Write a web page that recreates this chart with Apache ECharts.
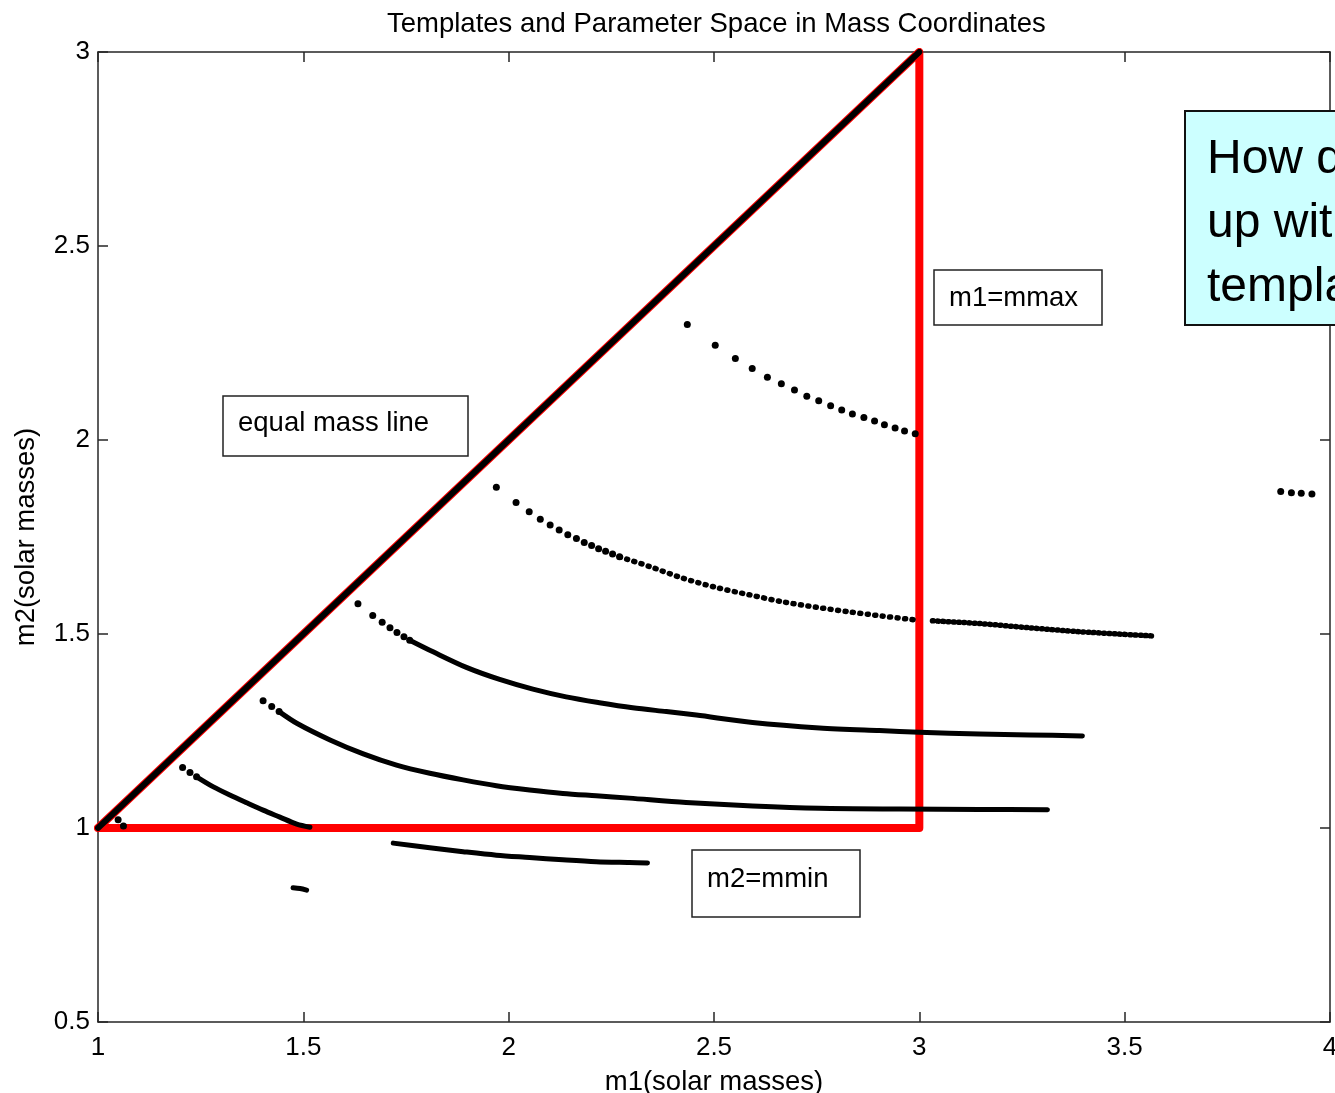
<!DOCTYPE html>
<html>
<head>
<meta charset="utf-8">
<title>Templates and Parameter Space in Mass Coordinates</title>
<script src="https://cdn.jsdelivr.net/npm/echarts@6/dist/echarts.min.js"></script>
<style>
  html, body { margin: 0; padding: 0; background: #fff; overflow: hidden; }
  #chart { width: 1335px; height: 1093px; }
</style>
</head>
<body>
<div id="chart"></div>
<script>
// Axis ranges and tick values (solar masses)
const xTicks = [1, 1.5, 2, 2.5, 3, 3.5, 4];
const yTicks = [0.5, 1, 1.5, 2, 2.5, 3];

// Parameter-space boundary: equal mass line, m1 = mmax, m2 = mmin
const boundary = [[1, 1], [3, 3], [3, 1], [1, 1]];
// Templates laid along the equal mass line
const equalMass = [[1, 1], [3, 3]];

// Template rows [m1, m2]
const curveA = [[2.435, 2.298], [2.503, 2.244], [2.552, 2.210], [2.593, 2.184], [2.630, 2.162], [2.664, 2.145],
  [2.696, 2.129], [2.726, 2.113], [2.755, 2.101], [2.784, 2.088], [2.811, 2.077], [2.837, 2.067],
  [2.865, 2.058], [2.891, 2.049], [2.915, 2.039], [2.941, 2.031], [2.964, 2.023], [2.990, 2.016]];

const curveBHead = [[1.970, 1.878], [2.018, 1.839], [2.050, 1.815], [2.077, 1.796], [2.101, 1.781], [2.123, 1.768],
  [2.144, 1.756], [2.165, 1.746], [2.184, 1.736], [2.202, 1.728], [2.219, 1.720], [2.236, 1.713],
  [2.253, 1.706], [2.270, 1.699]];
const curveBBody = [[2.270, 1.699], [2.343, 1.674], [2.424, 1.644], [2.505, 1.620], [2.586, 1.601], [2.667, 1.583],
  [2.749, 1.569], [2.830, 1.557], [2.911, 1.546], [2.992, 1.536]];
const curveBTail = [[3.032, 1.534], [3.146, 1.527], [3.268, 1.516], [3.389, 1.506], [3.568, 1.495]];

const curveCHead = [[1.633, 1.578], [1.669, 1.548], [1.692, 1.530], [1.711, 1.516], [1.728, 1.504], [1.745, 1.493], [1.759, 1.484]];
const curveCBody = [[1.759, 1.484], [1.816, 1.454], [1.897, 1.414], [1.978, 1.383], [2.059, 1.358], [2.140, 1.338],
  [2.221, 1.323], [2.302, 1.310], [2.384, 1.300], [2.457, 1.291], [2.594, 1.272], [2.757, 1.258],
  [2.903, 1.251], [3.000, 1.247], [3.146, 1.242], [3.268, 1.240], [3.397, 1.237]];

const curveDHead = [[1.402, 1.328], [1.423, 1.313], [1.441, 1.300]];
const curveDBody = [[1.441, 1.300], [1.484, 1.270], [1.565, 1.227], [1.646, 1.191], [1.727, 1.162], [1.808, 1.141],
  [1.889, 1.124], [1.970, 1.109], [2.051, 1.098], [2.132, 1.089], [2.213, 1.083], [2.294, 1.077],
  [2.432, 1.066], [2.594, 1.057], [2.757, 1.051], [2.951, 1.049], [3.146, 1.048], [3.312, 1.047]];

const curveEHead = [[1.206, 1.156], [1.224, 1.143], [1.240, 1.132]];
const curveEBody = [[1.240, 1.132], [1.281, 1.106], [1.321, 1.085], [1.362, 1.065], [1.402, 1.046], [1.443, 1.028],
  [1.484, 1.010], [1.516, 1.002]];

const cornerDots = [[1.049, 1.021], [1.062, 1.005]];

const curveF = [[1.719, 0.961], [1.808, 0.949], [1.889, 0.939], [1.970, 0.930], [2.051, 0.924], [2.132, 0.918],
  [2.213, 0.913], [2.294, 0.911], [2.338, 0.910]];
const curveG = [[1.475, 0.846], [1.492, 0.844], [1.508, 0.840]];
const curveH = [[3.880, 1.867], [3.906, 1.864], [3.930, 1.863], [3.956, 1.861]];

const FONT = "'Liberation Sans', Arial, Helvetica, sans-serif";
const AXIS_COLOR = '#262626';

function dots(data) {
  return { type: 'scatter', data, symbol: 'circle', symbolSize: 7, itemStyle: { color: '#000', opacity: 1 }, z: 4, silent: true };
}
function solid(data, width) {
  return { type: 'line', data, smooth: 0.3, showSymbol: false, lineStyle: { color: '#000', width: width || 5, cap: 'round', join: 'round' }, z: 3, silent: true };
}
function dotted(data, gap) {
  return { type: 'line', data, smooth: 0.3, showSymbol: false, lineStyle: { color: '#000', width: 5.5, type: [1, gap], cap: 'round' }, z: 3, silent: true };
}

const baseAxis = {
  type: 'value',
  axisLine: { show: true, onZero: false, lineStyle: { color: AXIS_COLOR, width: 1.5 } },
  axisTick: { show: true, inside: true, length: 10, lineStyle: { color: AXIS_COLOR, width: 1.5 } },
  splitLine: { show: false }
};

const chart = echarts.init(document.getElementById('chart'), null, { renderer: 'canvas', width: 1335, height: 1093 });

const option = {
  backgroundColor: '#fff',
  animation: false,
  title: {
    text: 'Templates and Parameter Space in Mass Coordinates',
    left: 382, top: 5,
    textStyle: { fontFamily: FONT, fontSize: 27.5, fontWeight: 'normal', color: '#000' }
  },
  grid: { left: 98, top: 52, width: 1232, height: 970, containLabel: false, outerBoundsMode: 'none' },
  xAxis: [
    Object.assign({}, baseAxis, {
      position: 'bottom', min: xTicks[0], max: xTicks[xTicks.length - 1], interval: xTicks[1] - xTicks[0],
      name: 'm1(solar masses)', nameLocation: 'middle', nameGap: 46,
      nameTextStyle: { fontFamily: FONT, fontSize: 27.5, color: '#000' },
      axisLabel: { show: true, fontFamily: FONT, fontSize: 26, color: '#000', margin: 13, showMinLabel: true, showMaxLabel: true }
    }),
    Object.assign({}, baseAxis, {
      position: 'top', min: xTicks[0], max: xTicks[xTicks.length - 1], interval: xTicks[1] - xTicks[0],
      axisLabel: { show: false }
    })
  ],
  yAxis: [
    Object.assign({}, baseAxis, {
      position: 'left', min: yTicks[0], max: yTicks[yTicks.length - 1], interval: yTicks[1] - yTicks[0],
      name: 'm2(solar masses)', nameLocation: 'middle', nameGap: 58, nameRotate: 90,
      nameTextStyle: { fontFamily: FONT, fontSize: 27.5, color: '#000' },
      axisLabel: { show: true, fontFamily: FONT, fontSize: 26, color: '#000', margin: 8, showMinLabel: true, showMaxLabel: true }
    }),
    Object.assign({}, baseAxis, {
      position: 'right', min: yTicks[0], max: yTicks[yTicks.length - 1], interval: yTicks[1] - yTicks[0],
      axisLabel: { show: false }
    })
  ],
  series: [
    { type: 'line', data: boundary, showSymbol: false, silent: true, z: 2,
      lineStyle: { color: '#ff0000', width: 8, join: 'round', cap: 'round' } },
    solid(equalMass, 6),
    dots(curveA),
    dots(curveBHead), dotted(curveBBody, 6.5), dotted(curveBTail, 4.2),
    dots(curveCHead), solid(curveCBody, 5),
    dots(curveDHead), solid(curveDBody, 5),
    dots(curveEHead), solid(curveEBody, 5),
    dots(cornerDots),
    solid(curveF, 5), solid(curveG, 5),
    dots(curveH)
  ],
  graphic: [
    // annotation labels for the boundary edges
    { type: 'rect', z: 50, shape: { x: 223, y: 396, width: 245, height: 60 }, style: { fill: '#fff', stroke: '#222', lineWidth: 1.5 } },
    { type: 'text', z: 51, x: 238, y: 423, style: { text: 'equal mass line', font: '27.5px ' + FONT, fill: '#000', verticalAlign: 'middle' } },
    { type: 'rect', z: 50, shape: { x: 934, y: 270, width: 168, height: 55 }, style: { fill: '#fff', stroke: '#222', lineWidth: 1.5 } },
    { type: 'text', z: 51, x: 949, y: 298, style: { text: 'm1=mmax', font: '27.5px ' + FONT, fill: '#000', verticalAlign: 'middle' } },
    { type: 'rect', z: 50, shape: { x: 692, y: 850, width: 168, height: 67 }, style: { fill: '#fff', stroke: '#222', lineWidth: 1.5 } },
    { type: 'text', z: 51, x: 707, y: 879, style: { text: 'm2=mmin', font: '27.5px ' + FONT, fill: '#000', verticalAlign: 'middle' } },
    // callout box running off the right edge
    { type: 'rect', z: 60, shape: { x: 1185, y: 111, width: 260, height: 214 }, style: { fill: '#ccffff', stroke: '#111', lineWidth: 2 } },
    { type: 'text', z: 61, x: 1207, y: 128, style: { text: 'How do we come\nup with the\ntemplates?', font: '48px ' + FONT, lineHeight: 64, fill: '#000', verticalAlign: 'top' } }
  ]
};

chart.setOption(option);
</script>
</body>
</html>
